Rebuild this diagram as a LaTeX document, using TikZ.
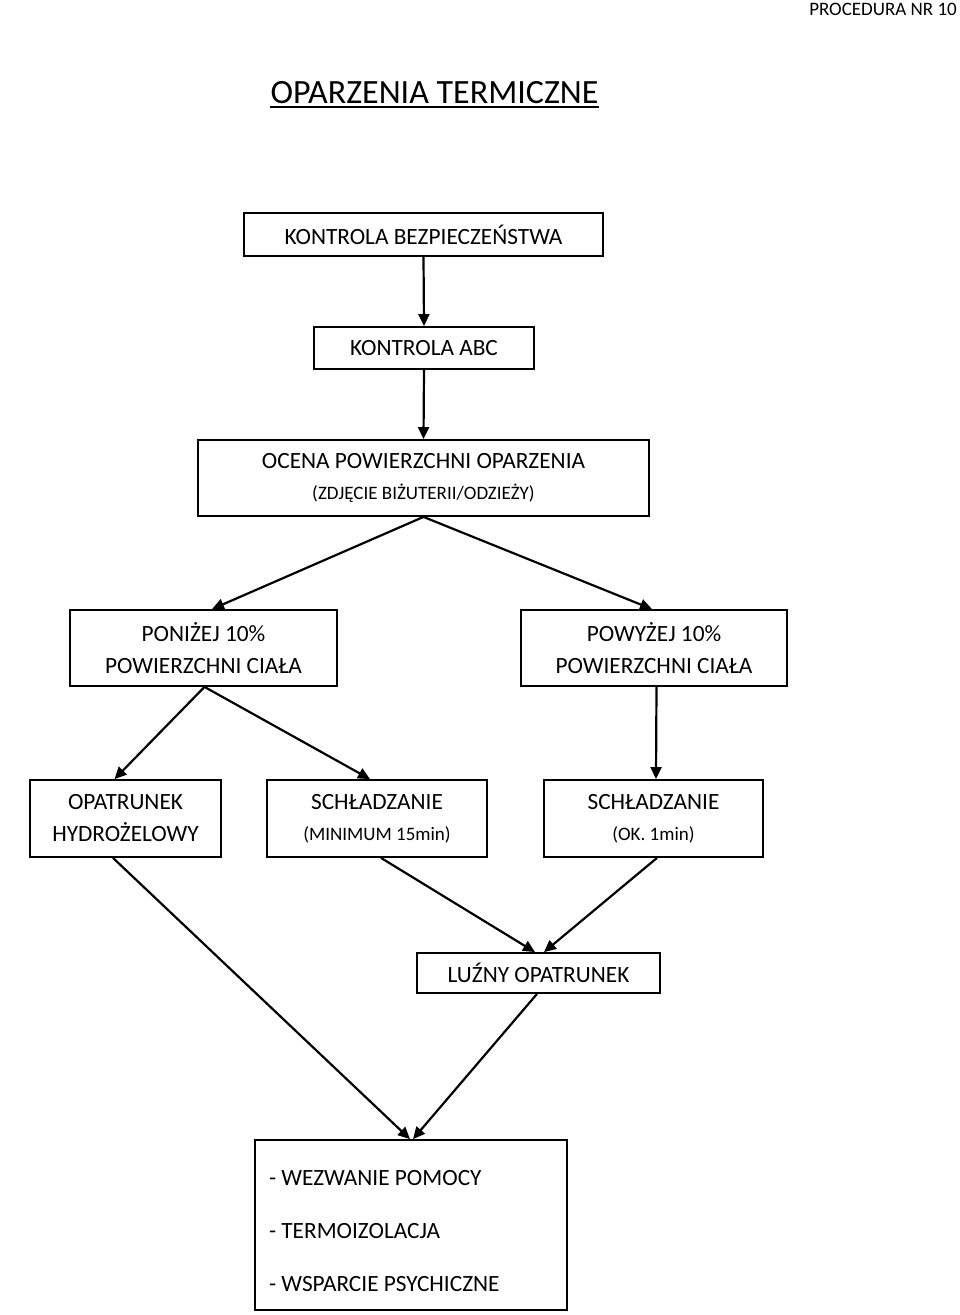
\documentclass[tikz,border=0pt]{standalone}
\usepackage{fontspec}
\setmainfont{Carlito}
\usetikzlibrary{arrows.meta}
\begin{document}
\begin{tikzpicture}[x=1pt,y=-1pt,
  box/.style={draw, line width=1.8pt, align=center, inner sep=0pt,
    font=\fontsize{23.3}{32}\selectfont},
  conn/.style={line width=2.2pt, -{Triangle[length=12pt,width=11pt]}}]
\useasboundingbox (0,0) rectangle (960,1315);
\node[anchor=base east, inner sep=0pt, font=\fontsize{19}{22}\selectfont] (hdr) at (957,15) {PROCEDURA NR 10};
\node[anchor=base, inner sep=0pt, font=\fontsize{34}{40}\selectfont] (title) at (434.5,103) {OPARZENIA TERMICZNE};
\draw[line width=1.8pt] ([yshift=-4pt]title.base west) -- ([yshift=-4pt]title.base east);

\node[box, minimum width=359pt, minimum height=43pt] (b1) at (423.5,234.5) {KONTROLA BEZPIECZEŃSTWA};
\node[box, minimum width=220pt, minimum height=42pt] (b2) at (424,348) {KONTROLA ABC};
\node[box, minimum width=451pt, minimum height=76pt] (b3) at (423.5,478) {OCENA POWIERZCHNI OPARZENIA\\[-1pt]{\fontsize{19}{33}\selectfont (ZDJĘCIE BIŻUTERII/ODZIEŻY)}};
\node[box, minimum width=267pt, minimum height=76pt] (b4) at (203.5,648) {PONIŻEJ 10\%\\POWIERZCHNI CIAŁA};
\node[box, minimum width=266pt, minimum height=76pt] (b5) at (654,648) {POWYŻEJ 10\%\\POWIERZCHNI CIAŁA};
\node[box, minimum width=191pt, minimum height=77pt] (b6) at (125.5,818.5) {OPATRUNEK\\HYDROŻELOWY};
\node[box, minimum width=220pt, minimum height=77pt] (b7) at (377,818.5) {SCHŁADZANIE\\[-1pt]{\fontsize{19}{33}\selectfont (MINIMUM 15min)}};
\node[box, minimum width=219pt, minimum height=77pt] (b8) at (653.5,818.5) {SCHŁADZANIE\\[-1pt]{\fontsize{19}{33}\selectfont (OK. 1min)}};
\node[box, minimum width=243pt, minimum height=40pt] (b9) at (538.5,973) {LUŹNY OPATRUNEK};
\node[box, align=flush left, text width=284pt, inner xsep=14pt, minimum height=170pt,
  font=\fontsize{23.3}{53}\selectfont] (b10) at (411,1225) {\rule{0pt}{28pt}- WEZWANIE POMOCY\\- TERMOIZOLACJA\\- WSPARCIE PSYCHICZNE};

\draw[conn] (b1.south) -- (b2.north);
\draw[conn] (b2.south) -- (b3.north);
\draw[conn] (b3.south) -- ([xshift=8.5pt]b4.north);
\draw[conn] (b3.south) -- ([xshift=-2pt]b5.north);
\draw[conn] ([xshift=1pt]b4.south) -- ([xshift=-11pt]b6.north);
\draw[conn] ([xshift=1pt]b4.south) -- ([xshift=-7pt]b7.north);
\draw[conn] ([xshift=2.5pt]b5.south) -- ([xshift=2.5pt]b8.north);
\draw[conn] ([xshift=-12.5pt]b6.south) -- ([xshift=-1pt]b10.north);
\draw[conn] ([xshift=4pt]b7.south) -- ([xshift=-3.5pt]b9.north);
\draw[conn] ([xshift=3.5pt]b8.south) -- ([xshift=5.5pt]b9.north);
\draw[conn] ([xshift=-1.5pt]b9.south) -- ([xshift=2pt]b10.north);
\end{tikzpicture}
\end{document}
